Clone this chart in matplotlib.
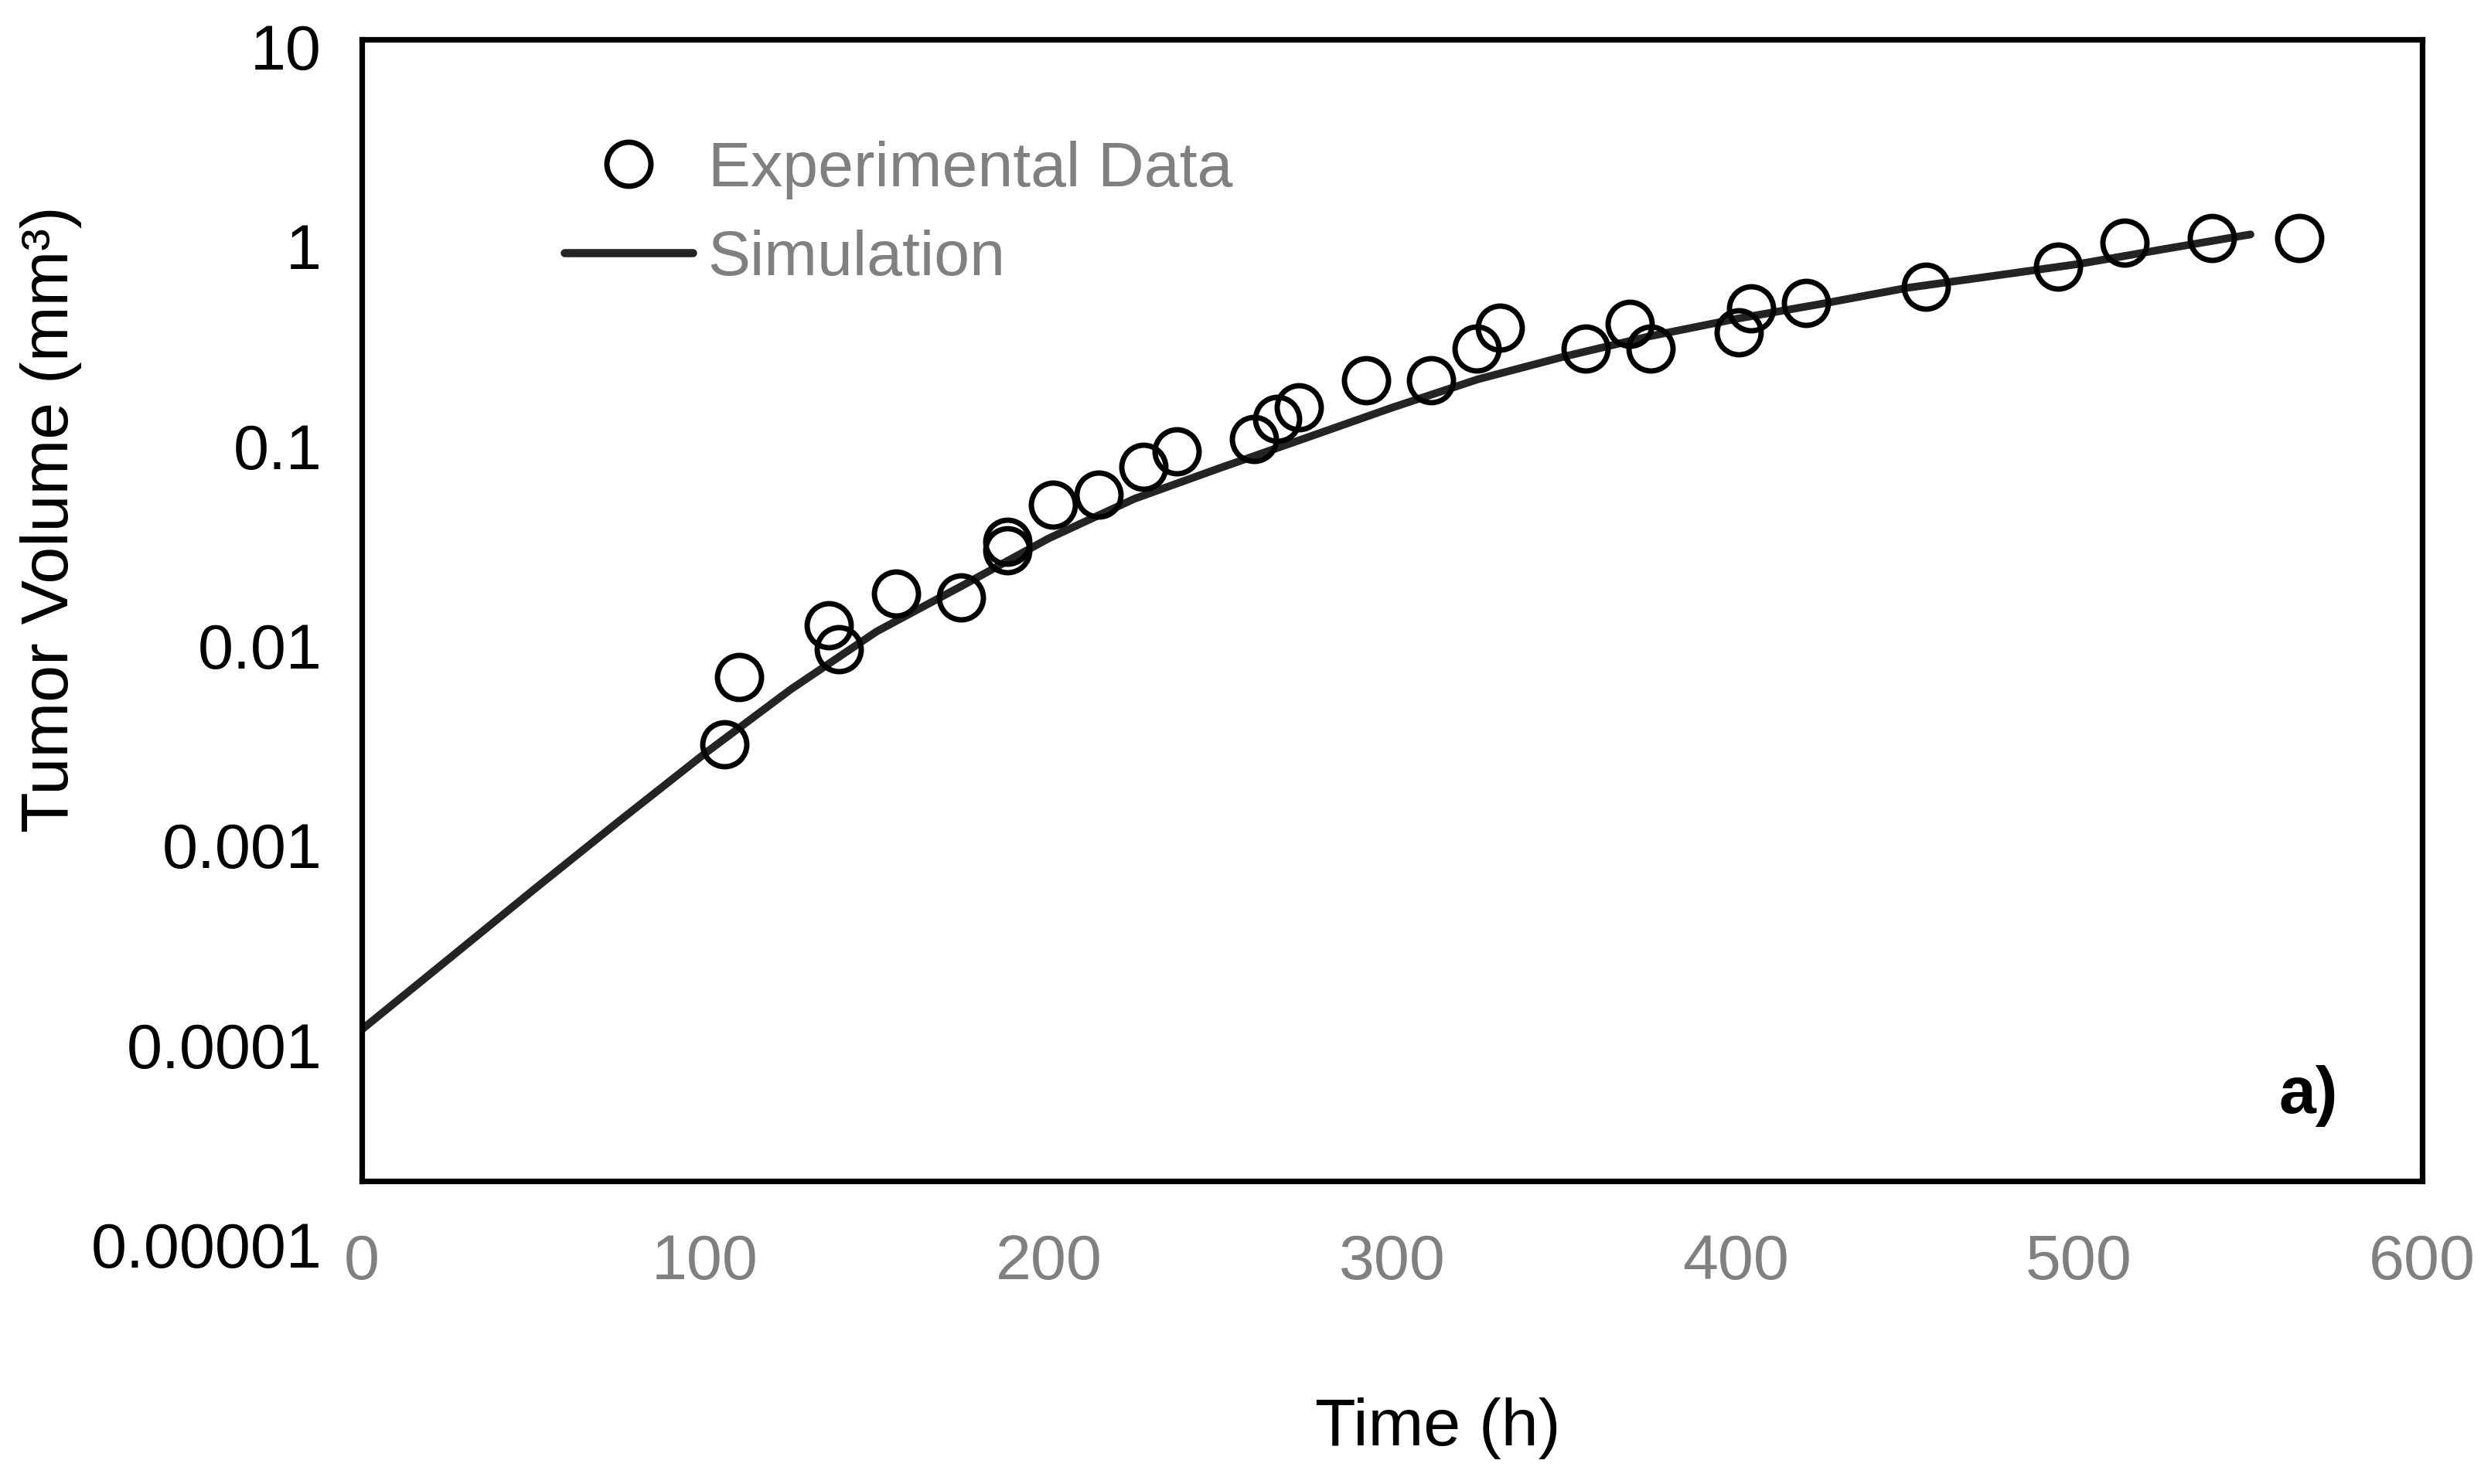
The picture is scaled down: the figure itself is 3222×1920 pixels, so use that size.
import matplotlib

matplotlib.use("Agg")
import matplotlib.pyplot as plt
import matplotlib.transforms as mtransforms
from matplotlib.lines import Line2D

exp_time = [105.7, 109.9, 136.0, 138.9, 155.6, 174.5, 188.0, 188.0, 201.2, 214.5,
            227.6, 237.3, 259.7, 266.5, 272.8, 292.4, 311.3, 324.6, 331.4, 356.3,
            369.3, 375.3, 401.0, 404.5, 420.5, 455.5, 494.0, 513.4, 538.8, 564.3]
exp_vol = [0.00318, 0.00693, 0.01256, 0.00955, 0.0181, 0.0173, 0.0330, 0.0298, 0.0505, 0.0568,
           0.0783, 0.0936, 0.1077, 0.1365, 0.155, 0.213, 0.213, 0.307, 0.390, 0.307,
           0.406, 0.307, 0.369, 0.486, 0.518, 0.627, 0.791, 1.04, 1.10, 1.10]

# simulation curve, read every 25 h
sim_time = [0, 25, 50, 75, 100, 125, 150, 175, 200, 225, 250, 275,
            300, 325, 350, 375, 400, 425, 450, 475, 500, 525, 550]
sim_vol = [1.19e-4, 2.66e-4, 5.96e-4, 1.32e-3, 2.88e-3, 6.03e-3, 0.01175, 0.01995,
           0.0343, 0.0542, 0.0774, 0.1094, 0.155, 0.215, 0.279, 0.353, 0.431,
           0.513, 0.617, 0.708, 0.813, 0.966, 1.143]

y_ticks = [10, 1, 0.1, 0.01, 0.001, 0.0001, 0.00001]
y_tick_labels = ["10", "1", "0.1", "0.01", "0.001", "0.0001", "0.00001"]
x_ticks = [0, 100, 200, 300, 400, 500, 600]

W, H, DPI = 3222, 1920, 200
FS = 31      # axis titles
FS_T = 29.7  # tick labels and legend
GRAY = "#808080"
LINE = "#242424"

plt.rcParams["font.family"] = ["Liberation Sans", "DejaVu Sans"]

fig = plt.figure(figsize=(W / DPI, H / DPI), dpi=DPI)


def fx(px):
    return px / W


def fy(py):
    return 1 - py / H


# plot frame in pixels: left 468, right 3133, top 51, bottom 1528
ax = fig.add_axes([fx(468), fy(1528), fx(3133) - fx(468), fy(51) - fy(1528)])
ax.set_yscale("log")
ax.set_xlim(0, 600)
ax.set_ylim(10 ** -4.6833, 10 ** 1.0348)
ax.set_xticks([])
ax.set_yticks([])
ax.minorticks_off()
for s in ax.spines.values():
    s.set_linewidth(2.6)
    s.set_color("black")

ax.plot(sim_time, sim_vol, color=LINE, lw=3.6, solid_capstyle="round",
        solid_joinstyle="round", zorder=2)
ax.plot(exp_time, exp_vol, ls="none", marker="o", ms=20.5, mfc="none",
        mec="black", mew=2.5, zorder=3)

# y tick labels (Excel style: lowest one sits below the frame)
ytr = mtransforms.offset_copy(ax.get_yaxis_transform(), fig=fig, x=0, y=-30, units="dots")
for v, lab in zip(y_ticks, y_tick_labels):
    ax.text(-0.0195, v, lab, transform=ytr, ha="right", va="baseline",
            fontsize=FS_T, color="black", clip_on=False)

# x tick labels, gray, level with 0.00001
xtr = mtransforms.blended_transform_factory(ax.transData, fig.transFigure)
for t in x_ticks:
    ax.text(t, fy(1655), str(t), transform=xtr, ha="center", va="baseline",
            fontsize=FS_T, color=GRAY, clip_on=False)

fig.text(fx(66), fy(672), "Tumor Volume (mm³)", rotation=90, ha="center",
         va="center", fontsize=FS, color="black")
fig.text(fx(1860), fy(1870), "Time (h)", ha="center", va="baseline",
         fontsize=FS, color="black")
fig.text(fx(3024), fy(1440), "a)", ha="right", va="baseline", fontsize=FS,
         fontweight="bold", color="black")

handles = [
    Line2D([], [], ls="none", marker="o", ms=20.5, mfc="none", mec="black", mew=2.5),
    Line2D([], [], color=LINE, lw=3.8, solid_capstyle="round"),
]
ax.legend(handles, ["Experimental Data", "Simulation"], loc="upper left",
          bbox_to_anchor=(fx(730), fy(182)), bbox_transform=fig.transFigure,
          frameon=False, fontsize=FS_T, labelcolor=GRAY, handlelength=2.01,
          handletextpad=0.24, labelspacing=0.47, borderpad=0, borderaxespad=0)

fig.savefig("out.png", dpi=DPI)
